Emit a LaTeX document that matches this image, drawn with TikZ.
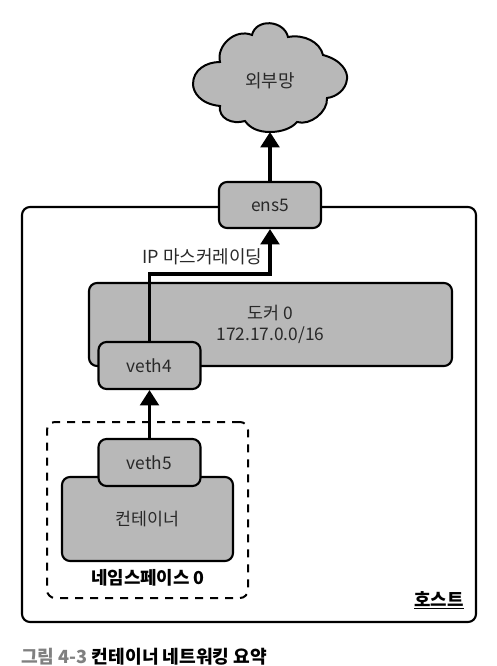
\documentclass[tikz,border=0pt]{standalone}
\usepackage{fontspec}
\setmainfont{Noto Sans CJK KR}
\usetikzlibrary{arrows.meta}
\definecolor{boxgray}{gray}{0.72}
\definecolor{txt}{gray}{0.16}
\definecolor{capgray}{gray}{0.5}
\tikzset{
  x=0.75pt,y=-0.75pt,
  boxnode/.style={draw=black,fill=boxgray,line width=1.6pt,rounded corners=6pt,inner sep=0pt,align=center,text=txt,font=\fontsize{13}{15.75}\selectfont},
  flow/.style={line width=2.4pt,draw=black,-{Triangle[length=11.5pt,width=14pt]}},
  lbl/.style={inner sep=0pt,text=black,font=\fontsize{13.5}{15}\selectfont},
  blbl/.style={inner sep=0pt,text=black,font=\fontsize{13.4}{16}\selectfont\bfseries},
}
\begin{document}
\begin{tikzpicture}
\useasboundingbox (0,0) rectangle (496,666);
% host
\node[draw=black,line width=1.6pt,rounded corners=6pt,minimum width=454*0.75pt,minimum height=415*0.75pt,inner sep=0pt] (host) at (249,414.5) {};
% cloud
\draw[fill=boxgray,line width=1.5pt]
  (270,132) .. controls (258,132) and (250,128) .. (245,121)
  .. controls (232,125) and (218,118) .. (220,106)
  .. controls (200,104) and (193,92) .. (193,84)
  .. controls (193,70) and (206,62) .. (220,62)
  .. controls (216,46) and (235,28) .. (252,35)
  .. controls (256,18) and (284,20) .. (288,37)
  .. controls (304,34) and (320,42) .. (323,55)
  .. controls (342,60) and (348,72) .. (347,79)
  .. controls (346,90) and (336,97) .. (327,98)
  .. controls (328,112) and (310,126) .. (297,122)
  .. controls (292,128) and (282,132) .. (270,132) -- cycle;
\node[lbl,text=txt] (ext) at (270,81) {외부망};
\coordinate (cloudb) at (270,132);
% docker
\node[boxnode,minimum width=363*0.75pt,minimum height=83*0.75pt] (docker) at (270.5,324.5) {도커 0\\172.17.0.0/16};
% dashed namespace
\node[draw=black,line width=1.5pt,dash pattern=on 6pt off 5.25pt,rounded corners=6pt,minimum width=201*0.75pt,minimum height=176*0.75pt,inner sep=0pt] (ns) at (147.5,510) {};
% nodes
\node[boxnode,minimum width=171*0.75pt,minimum height=84*0.75pt] (cont) at (147.5,519) {컨테이너};
\node[boxnode,minimum width=102*0.75pt,minimum height=47*0.75pt] (veth5) at (149.5,462.5) {veth5};
\node[boxnode,minimum width=102*0.75pt,minimum height=47*0.75pt] (veth4) at (149.5,365.5) {veth4};
\node[boxnode,minimum width=102*0.75pt,minimum height=46*0.75pt] (ens5) at (270,205) {ens5};
% labels
\node[lbl,text=txt] (ipm) at (202.5,257) {IP 마스커레이딩};
\node[blbl] (nslabel) at (148,578) {네임스페이스 0};
\node[blbl,anchor=east] (hostlabel) at (464,600) {\underline{호스트}};
\node[inner sep=0pt,anchor=west,font=\fontsize{13.6}{15}\selectfont\bfseries] (cap) at (21,657) {\textcolor{capgray}{그림 4-3} 컨테이너 네트워킹 요약};
% connectors
\coordinate (turn) at (270,274);
\draw[flow] (ens5.north) -- (cloudb);
\draw[flow] (veth4.north) |- (turn) -- (ens5.south);
\draw[flow] (veth5.north) -- (veth4.south);
\end{tikzpicture}
\end{document}
